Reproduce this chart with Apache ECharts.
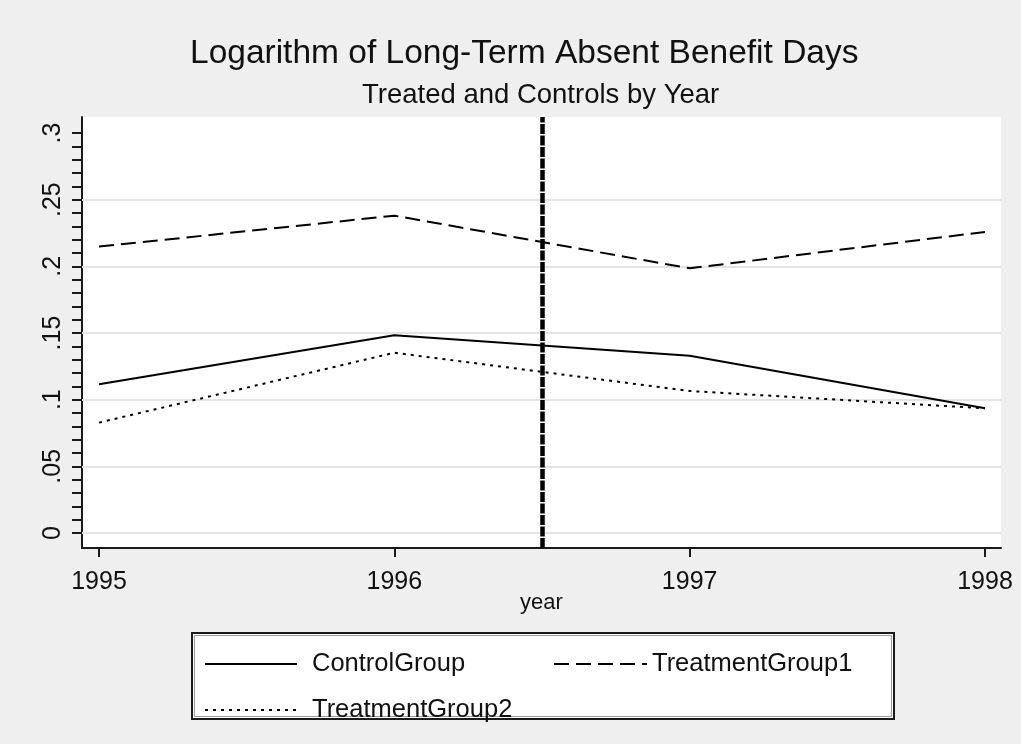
<!DOCTYPE html>
<html><head><meta charset="utf-8">
<script src="https://cdn.jsdelivr.net/npm/echarts@6/dist/echarts.min.js"></script>
<style>html,body{margin:0;padding:0;background:#efefef}#c{width:1021px;height:744px}</style>
</head><body><div id="c"></div>
<script>
// ---- data ----
const years = [1995, 1996, 1997, 1998];
const controlGroup    = [0.1115, 0.1483, 0.1330, 0.0935];
const treatmentGroup1 = [0.2148, 0.2380, 0.1985, 0.2258];
const treatmentGroup2 = [0.0828, 0.1352, 0.1065, 0.0935];
const seriesNames = ['ControlGroup', 'TreatmentGroup1', 'TreatmentGroup2'];
const yLabelValues = [0, 0.05, 0.1, 0.15, 0.2, 0.25, 0.3];
const yTickValues = [0, 0.01, 0.02, 0.03, 0.04, 0.05, 0.06, 0.07, 0.08, 0.09, 0.1,
  0.11, 0.12, 0.13, 0.14, 0.15, 0.16, 0.17, 0.18, 0.19, 0.2,
  0.21, 0.22, 0.23, 0.24, 0.25, 0.26, 0.27, 0.28, 0.29, 0.3];
const gridValues = [0, 0.05, 0.1, 0.15, 0.2, 0.25];
const policyYear = 1996.5;
const titleText = 'Logarithm of Long-Term Absent Benefit Days';
const subtitleText = 'Treated and Controls by Year';
const xAxisName = 'year';

const FONT = '"Liberation Sans", Arial, sans-serif';
const INK = '#111';

function pairs(vals) { return years.map((y, i) => [y, vals[i]]); }
function yFmt(v) { return v === 0 ? '0' : String(+v.toFixed(2)).replace(/^0\./, '.'); }

const chart = echarts.init(document.getElementById('c'), null, {renderer: 'canvas'});
const legendBase = {
  orient: 'horizontal', padding: 0, itemHeight: 14, selectedMode: false,
  itemStyle: {opacity: 0},
  textStyle: {fontFamily: FONT, fontSize: 25.5, color: INK, lineHeight: 26}
};
chart.setOption({
  animation: false,
  backgroundColor: '#efefef',
  title: [
    {text: titleText, left: 190, top: 37, padding: 0,
     textStyle: {fontFamily: FONT, fontSize: 33.5, lineHeight: 34, fontWeight: 'normal', color: INK}},
    {text: subtitleText, left: 362, top: 81, padding: 0,
     textStyle: {fontFamily: FONT, fontSize: 27.5, lineHeight: 28, fontWeight: 'normal', color: INK}}
  ],
  grid: {left: 82, right: 20, top: 117, bottom: 196, show: true, backgroundColor: '#ffffff', borderWidth: 0, containLabel: false},
  xAxis: {
    type: 'value', min: 1994.9424, max: 1998.0542,
    name: xAxisName, nameLocation: 'middle', nameGap: 44, nameMoveOverlap: false,
    nameTextStyle: {fontFamily: FONT, fontSize: 22, color: INK, lineHeight: 22},
    axisLine: {show: true, onZero: false, lineStyle: {color: '#1a1a1a', width: 2}},
    axisTick: {show: true, customValues: years, length: 9, lineStyle: {color: '#1a1a1a', width: 2}},
    axisLabel: {customValues: years, margin: 22, formatter: v => String(v),
      fontFamily: FONT, fontSize: 25, lineHeight: 25, color: INK},
    splitLine: {show: false}
  },
  yAxis: {
    type: 'value', min: -0.01125, max: 0.312,
    axisLine: {show: true, onZero: false, lineStyle: {color: '#1a1a1a', width: 2}},
    axisTick: {show: true, customValues: yTickValues, length: 10, lineStyle: {color: '#1a1a1a', width: 2}},
    axisLabel: {customValues: yLabelValues, rotate: 90, margin: 16, formatter: yFmt,
      fontFamily: FONT, fontSize: 25, lineHeight: 25, color: INK},
    splitLine: {show: false}
  },
  legend: [
    Object.assign({}, legendBase, {data: [seriesNames[0]], left: 204, top: 651, itemWidth: 92,
      textStyle: Object.assign({}, legendBase.textStyle, {padding: [0, 0, 0, 10]})}),
    Object.assign({}, legendBase, {data: [seriesNames[1]], left: 553, top: 651, itemWidth: 93}),
    Object.assign({}, legendBase, {data: [seriesNames[2]], left: 204, top: 697, itemWidth: 92,
      textStyle: Object.assign({}, legendBase.textStyle, {padding: [0, 0, 0, 10]})})
  ],
  graphic: [
    {type: 'rect', shape: {x: 192, y: 633, width: 702, height: 86}, z: 0,
     style: {fill: '#ffffff', stroke: '#1a1a1a', lineWidth: 2}},
    {type: 'rect', shape: {x: 194.5, y: 635.5, width: 697, height: 81}, z: 0,
     style: {fill: 'none', stroke: '#9a9a9a', lineWidth: 1}}
  ],
  series: [
    {name: seriesNames[0], type: 'line', data: pairs(controlGroup), symbol: 'none', z: 3,
     lineStyle: {color: '#000', width: 2, type: 'solid'}, itemStyle: {color: '#000'},
     markLine: {silent: true, symbol: ['none', 'none'], z: 1, label: {show: false},
       lineStyle: {color: '#e4e4e4', width: 2, type: 'solid'},
       emphasis: {disabled: true},
       data: gridValues.map(v => ({yAxis: v}))}},
    {name: seriesNames[1], type: 'line', data: pairs(treatmentGroup1), symbol: 'none', z: 3,
     lineStyle: {color: '#000', width: 2, type: [15, 7]}, itemStyle: {color: '#000'}},
    {name: seriesNames[2], type: 'line', data: pairs(treatmentGroup2), symbol: 'none', z: 3,
     lineStyle: {color: '#000', width: 2, type: [3, 5]}, itemStyle: {color: '#000'},
     markLine: {silent: true, symbol: ['none', 'none'], label: {show: false},
       lineStyle: {color: '#000', width: 4.5, type: [10, 1.5]},
       emphasis: {disabled: true},
       data: [{xAxis: policyYear}]}}
  ]
});
</script></body></html>
